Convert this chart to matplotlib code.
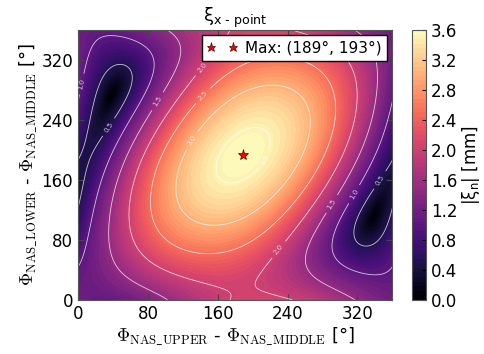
import numpy as np
import matplotlib
matplotlib.use('Agg')
import matplotlib.pyplot as plt

# phasor model: |a_mid + a_up*e^{i(x-x0)} + a_low*e^{i(y-y0)}|
amplitudes = [1.24, 1.57, 0.79]      # middle, upper, lower [mm]
max_pos = [189, 193]                 # (x0, y0) position of the maximum [deg]
line_levels = [0.5, 1.0, 1.5, 2.0, 2.5, 3.0, 3.5]
tick_vals = [0, 80, 160, 240, 320]
cbar_ticks = [0.0, 0.4, 0.8, 1.2, 1.6, 2.0, 2.4, 2.8, 3.2, 3.6]

plt.rcParams['xtick.direction'] = 'in'
plt.rcParams['ytick.direction'] = 'in'
plt.rcParams['xtick.top'] = True
plt.rcParams['ytick.right'] = True

phi = np.arange(0, 361, 1.0)
X, Y = np.meshgrid(phi, phi)
a_mid, a_up, a_low = amplitudes
Z = np.abs(a_mid + a_up * np.exp(1j * np.deg2rad(X - max_pos[0]))
           + a_low * np.exp(1j * np.deg2rad(Y - max_pos[1])))

fig = plt.figure(figsize=(4.85, 3.54), dpi=100)
ax = fig.add_axes([0.161, 0.153, 0.648, 0.762])
cax = fig.add_axes([0.849, 0.153, 0.029, 0.762])

cf = ax.contourf(X, Y, Z, levels=np.linspace(0, 3.6, 60), cmap='magma')
cs = ax.contour(X, Y, Z, levels=line_levels, colors='white', linewidths=0.6, alpha=0.75)
ax.clabel(cs, fmt='%.1f', fontsize=5, inline=True)

ax.plot(max_pos[0], max_pos[1], '*', color='red', markeredgecolor='#550000',
        markeredgewidth=0.5, markersize=8, linestyle='none',
        label='Max: (%d°, %d°)' % (max_pos[0], max_pos[1]))
leg = ax.legend(loc='upper right', numpoints=2, fontsize=11, fancybox=False,
                framealpha=1, borderpad=0.35, handletextpad=0.5, borderaxespad=0.35,
                handlelength=2.0, markerscale=0.85)
leg.get_frame().set_edgecolor('black')

ax.set_xlim(0, 360)
ax.set_ylim(0, 360)
ax.set_xticks(tick_vals)
ax.set_yticks(tick_vals)
ax.tick_params(labelsize=12, length=4, color='#444444')
for sp in ax.spines.values():
    sp.set_color('#555555')

ax.set_xlabel(r'$\Phi_{\mathrm{NAS\_UPPER}}$ - $\Phi_{\mathrm{NAS\_MIDDLE}}$ [°]',
              fontsize=13, math_fontfamily='cm', labelpad=2)
ax.set_ylabel(r'$\Phi_{\mathrm{NAS\_LOWER}}$ - $\Phi_{\mathrm{NAS\_MIDDLE}}$ [°]',
              fontsize=13, math_fontfamily='cm', labelpad=2)
ax.set_title(r'$\mathrm{\xi}_{\mathrm{x\ \text{-}\ point}}$', fontsize=13, pad=3)

cb = fig.colorbar(cf, cax=cax, ticks=cbar_ticks)
cb.ax.tick_params(labelsize=12, direction='in', length=3)
cb.set_label(r'$|\mathrm{\xi}_{\mathrm{n}}|$ [mm]', fontsize=12, labelpad=2)
cb.outline.set_edgecolor('#555555')

fig.savefig('out.png', dpi=100)
